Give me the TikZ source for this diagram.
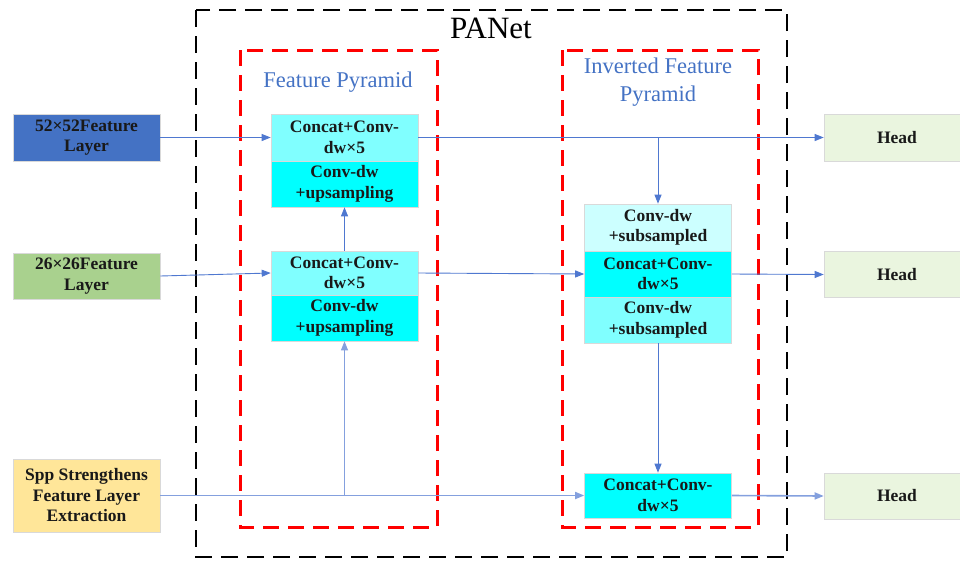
\documentclass[tikz,border=0pt]{standalone}
\usepackage{fontspec}
\setmainfont{Liberation Serif}
\usetikzlibrary{arrows.meta}
\definecolor{blk}{HTML}{4472C4}
\definecolor{grn}{HTML}{A9D18E}
\definecolor{ylw}{HTML}{FFE699}
\definecolor{headc}{HTML}{EAF5DF}
\definecolor{cyA}{HTML}{80FFFF}
\definecolor{cyB}{HTML}{00FFFF}
\definecolor{cyC}{HTML}{CCFFFF}
\definecolor{flow}{HTML}{4F78D0}
\definecolor{lbl}{HTML}{4472C4}
\tikzset{
  box/.style={draw=black!15, line width=0.6pt, minimum width=147pt, inner sep=0pt,
    align=center, font=\fontsize{17.5}{20.5}\selectfont\bfseries, text=black!90},
  flowline/.style={draw=flow, line width=0.9pt, -{Triangle[length=9pt,width=7pt]}},
  redframe/.style={draw=red, line width=3pt, dash pattern=on 16pt off 9pt},
  blackframe/.style={draw=black, line width=2.6pt, dash pattern=on 17pt off 9pt},
  grouplabel/.style={text=lbl, font=\fontsize{22.5}{28}\selectfont, align=center}
}
\begin{document}
\begin{tikzpicture}[x=1pt,y=-1pt]
\useasboundingbox (0,0) rectangle (960,560);

% frames
\draw[blackframe] (196,10) rectangle (787,557);
\draw[redframe] (240,50) rectangle (437,527);
\draw[redframe] (562,50) rectangle (758,527);
\node[font=\fontsize{31}{33}\selectfont] (panet) at (491,28) {PANet};
\node[grouplabel] (fp) at (338,82) {Feature Pyramid};
\node[grouplabel] (ifp) at (658,82) {Inverted Feature\\Pyramid};

% input layers
\node[box, fill=blk, minimum height=47pt] (f52) at (86.5,137.5) {52×52Feature\\Layer};
\node[box, fill=grn, minimum height=46pt] (f26) at (86.5,276) {26×26Feature\\Layer};
\node[box, fill=ylw, minimum height=73pt] (spp) at (86.5,495.5) {Spp Strengthens\\Feature Layer\\Extraction};

% feature pyramid
\node[box, fill=cyA, minimum height=47pt] (c1) at (344.5,137.5) {Concat+Conv-\\dw×5};
\node[box, fill=cyB, minimum height=46pt] (u1) at (344.5,184) {Conv-dw\\+upsampling};
\node[box, fill=cyA, minimum height=44pt] (c2) at (344.5,273) {Concat+Conv-\\dw×5};
\node[box, fill=cyB, minimum height=46pt] (u2) at (344.5,318) {Conv-dw\\+upsampling};

% inverted feature pyramid
\node[box, fill=cyC, minimum height=47pt] (s1) at (658,227.5) {Conv-dw\\+subsampled};
\node[box, fill=cyB, minimum height=46pt] (c3) at (658,274) {Concat+Conv-\\dw×5};
\node[box, fill=cyA, minimum height=46pt] (s2) at (658,320) {Conv-dw\\+subsampled};
\node[box, fill=cyB, minimum height=45pt] (c4) at (658,495.5) {Concat+Conv-\\dw×5};

% heads
\node[box, fill=headc, minimum width=146pt, minimum height=47pt] (h1) at (897,137.5) {Head};
\node[box, fill=headc, minimum width=146pt, minimum height=46pt] (h2) at (897,274.5) {Head};
\node[box, fill=headc, minimum width=146pt, minimum height=46pt] (h3) at (897,496) {Head};

% junctions
\coordinate (j1) at (344.5,495.5);
\coordinate (j2) at (658,137.5);

% connectors
\draw[flowline] (f52.east) -- (c1.west);
\draw[flowline] (f26.east) -- (c2.west);
\draw[flowline, line width=1.6pt, draw=flow!70] (spp.east) -- (c4.west);
\draw[flowline, draw=flow!70] (j1) -- (u2.south);
\draw[flowline] (c2.north) -- (u1.south);
\draw[flowline] (c1.east) -- (h1.west);
\draw[flowline] (j2) -- (s1.north);
\draw[flowline] (c2.east) -- (c3.west);
\draw[flowline] (c3.east) -- (h2.west);
\draw[flowline] (s2.south) -- (c4.north);
\draw[flowline, line width=1.6pt, draw=flow!70] (c4.east) -- (h3.west);
\end{tikzpicture}
\end{document}
